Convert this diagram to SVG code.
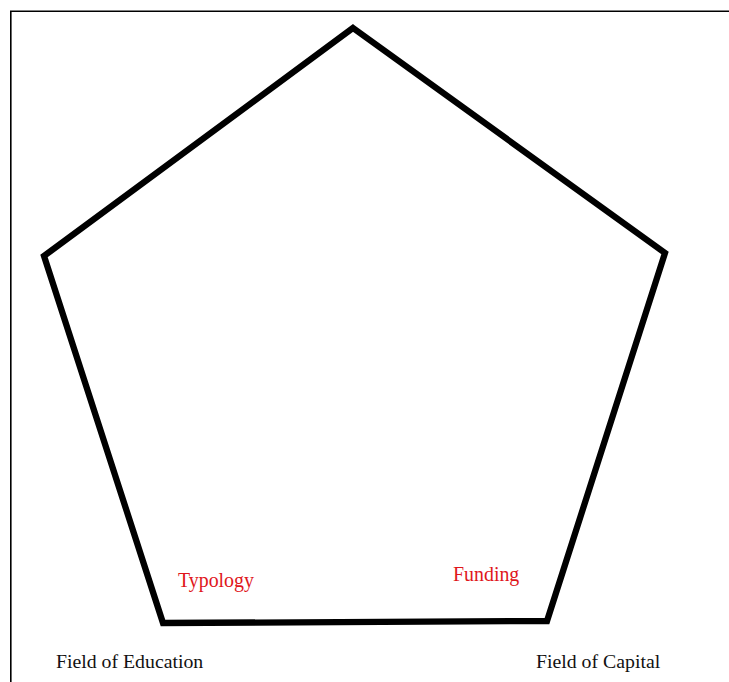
<svg xmlns="http://www.w3.org/2000/svg" width="729" height="682" viewBox="0 0 729 682">
<style>
.frame{fill:none;stroke:#000;stroke-width:1.6}
.pent{fill:none;stroke:#000;stroke-width:6.3;stroke-linejoin:miter}
.lbl{font-family:"Liberation Serif","Times New Roman",serif;font-size:19.8px;fill:#111}
.red{font-family:"Liberation Serif","Times New Roman",serif;font-size:19.9px;fill:#e0161b}
</style>
<rect width="729" height="682" fill="#fff"/>
<path class="frame" d="M10.8,682 V11.2 H729"/>
<g id="pentagon">
<polygon class="pent" points="353,28 665,253 547,621 163,623 44,256"/>
</g>
<g id="typology"><text class="red" x="178" y="587">Typology</text></g>
<g id="funding"><text class="red" x="453" y="581">Funding</text></g>
<g id="field-education"><text class="lbl" x="56" y="668">Field of Education</text></g>
<g id="field-capital"><text class="lbl" x="536" y="668">Field of Capital</text></g>
<g id="connectors"></g>
</svg>
